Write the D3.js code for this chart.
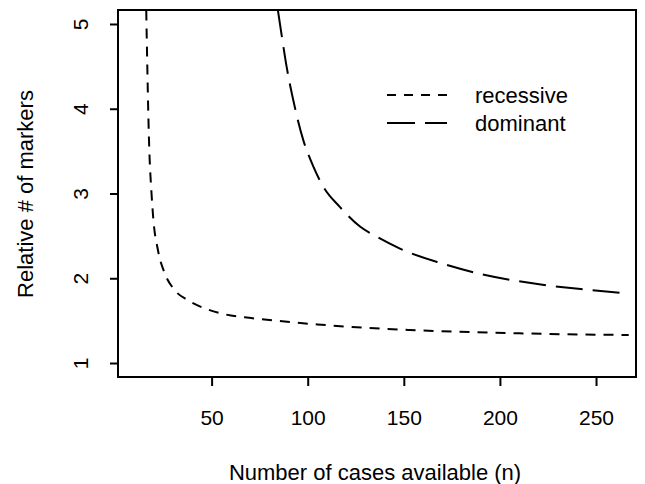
<!DOCTYPE html>
<html>
<head>
<meta charset="utf-8">
<script src="https://cdn.jsdelivr.net/npm/d3@7"></script>
<style>
  body { margin: 0; background: #fff; }
  text { font-family: "Liberation Sans", Arial, Helvetica, sans-serif; fill: #000; }
</style>
</head>
<body>
<script>
// n (cases) vs relative number of markers
var recessiveN = [16, 16.5, 17.4, 18.8, 19.6, 22.1, 25.6, 30.8, 37.7, 46.4, 56.8, 70.6, 88, 105, 153, 210, 267],
    recessiveV = [5.16, 4.55, 3.65, 2.98, 2.72, 2.33, 2.06, 1.86, 1.74, 1.645, 1.575, 1.53, 1.49, 1.455, 1.39, 1.35, 1.33];
var dominantN = [84.5, 86.5, 89, 92.5, 97.7, 102.9, 108.1, 116.8, 127.2, 135.9, 148, 169, 190, 217, 243, 267],
    dominantV = [5.16, 4.86, 4.5, 4.1, 3.63, 3.32, 3.08, 2.84, 2.61, 2.49, 2.35, 2.18, 2.05, 1.94, 1.87, 1.82];
var xTicks = [50, 100, 150, 200, 250],
    yTicks = [1, 2, 3, 4, 5];
var seriesNames = ["recessive", "dominant"];

var w = 645,
    h = 484,
    pL = 118, pR = 636, pT = 10, pB = 377;

var svg = d3.select("body")
    .append("svg")
    .attr("width", w)
    .attr("height", h);

var x = d3.scaleLinear().domain([1.3, 270.8]).range([pL, pR]);
var y = d3.scaleLinear().domain([0.835, 5.165]).range([pB, pT]);

svg.append("clipPath")
    .attr("id", "plot")
    .append("rect")
    .attr("x", pL)
    .attr("y", pT)
    .attr("width", pR - pL)
    .attr("height", pB - pT);

var line = d3.line()
    .x(function (d) { return x(d[0]); })
    .y(function (d) { return y(d[1]); })
    .curve(d3.curveMonotoneX);

var series = [
    { pts: d3.zip(recessiveN, recessiveV), dash: "10,8" },
    { pts: d3.zip(dominantN, dominantV), dash: "27,10" }
];

svg.selectAll("path.curve")
    .data(series)
    .enter()
    .append("path")
    .attr("class", "curve")
    .attr("clip-path", "url(#plot)")
    .attr("d", function (d) { return line(d.pts); })
    .attr("fill", "none")
    .attr("stroke", "#000")
    .attr("stroke-width", 2)
    .attr("stroke-dasharray", function (d) { return d.dash; });

// box
svg.append("rect")
    .attr("x", pL)
    .attr("y", pT)
    .attr("width", pR - pL)
    .attr("height", pB - pT)
    .attr("fill", "none")
    .attr("stroke", "#000")
    .attr("stroke-width", 2);

// x axis
var xa = svg.append("g")
    .attr("transform", "translate(0," + pB + ")")
    .call(d3.axisBottom(x).tickValues(xTicks).tickSize(9).tickPadding(24));
xa.select(".domain").remove();
xa.selectAll("line").attr("stroke-width", 2);
xa.selectAll("text")
    .attr("font-size", "21px")
    .style("font-family", "Liberation Sans, Arial, sans-serif");

// y axis, labels turned like R's las = 0
var ya = svg.append("g")
    .attr("transform", "translate(" + pL + ",0)")
    .call(d3.axisLeft(y).tickValues(yTicks).tickFormat(d3.format("d")).tickSize(8));
ya.select(".domain").remove();
ya.selectAll("line").attr("stroke-width", 2);
ya.selectAll("text")
    .attr("x", 0)
    .attr("y", 0)
    .attr("dy", null)
    .attr("text-anchor", "middle")
    .attr("transform", "translate(-30,0) rotate(-90)")
    .attr("font-size", "21px")
    .style("font-family", "Liberation Sans, Arial, sans-serif");

// axis titles
svg.append("text")
    .text("Number of cases available (n)")
    .attr("x", 375)
    .attr("y", 480)
    .attr("text-anchor", "middle")
    .attr("font-size", "22px");

svg.append("text")
    .text("Relative # of markers")
    .attr("transform", "translate(33,194) rotate(-90)")
    .attr("text-anchor", "middle")
    .attr("font-size", "22px");

// legend
var lg = svg.selectAll("g.legend")
    .data(seriesNames)
    .enter()
    .append("g")
    .attr("class", "legend")
    .attr("transform", function (d, i) { return "translate(0," + (95 + i * 28) + ")"; });

lg.append("line")
    .attr("x1", 387)
    .attr("x2", 447)
    .attr("stroke", "#000")
    .attr("stroke-width", 2)
    .attr("stroke-dasharray", function (d, i) { return i == 0 ? "9,8" : "28,10"; });

lg.append("text")
    .text(function (d) { return d; })
    .attr("x", 475)
    .attr("y", 8)
    .attr("font-size", "22px");
</script>
</body>
</html>
